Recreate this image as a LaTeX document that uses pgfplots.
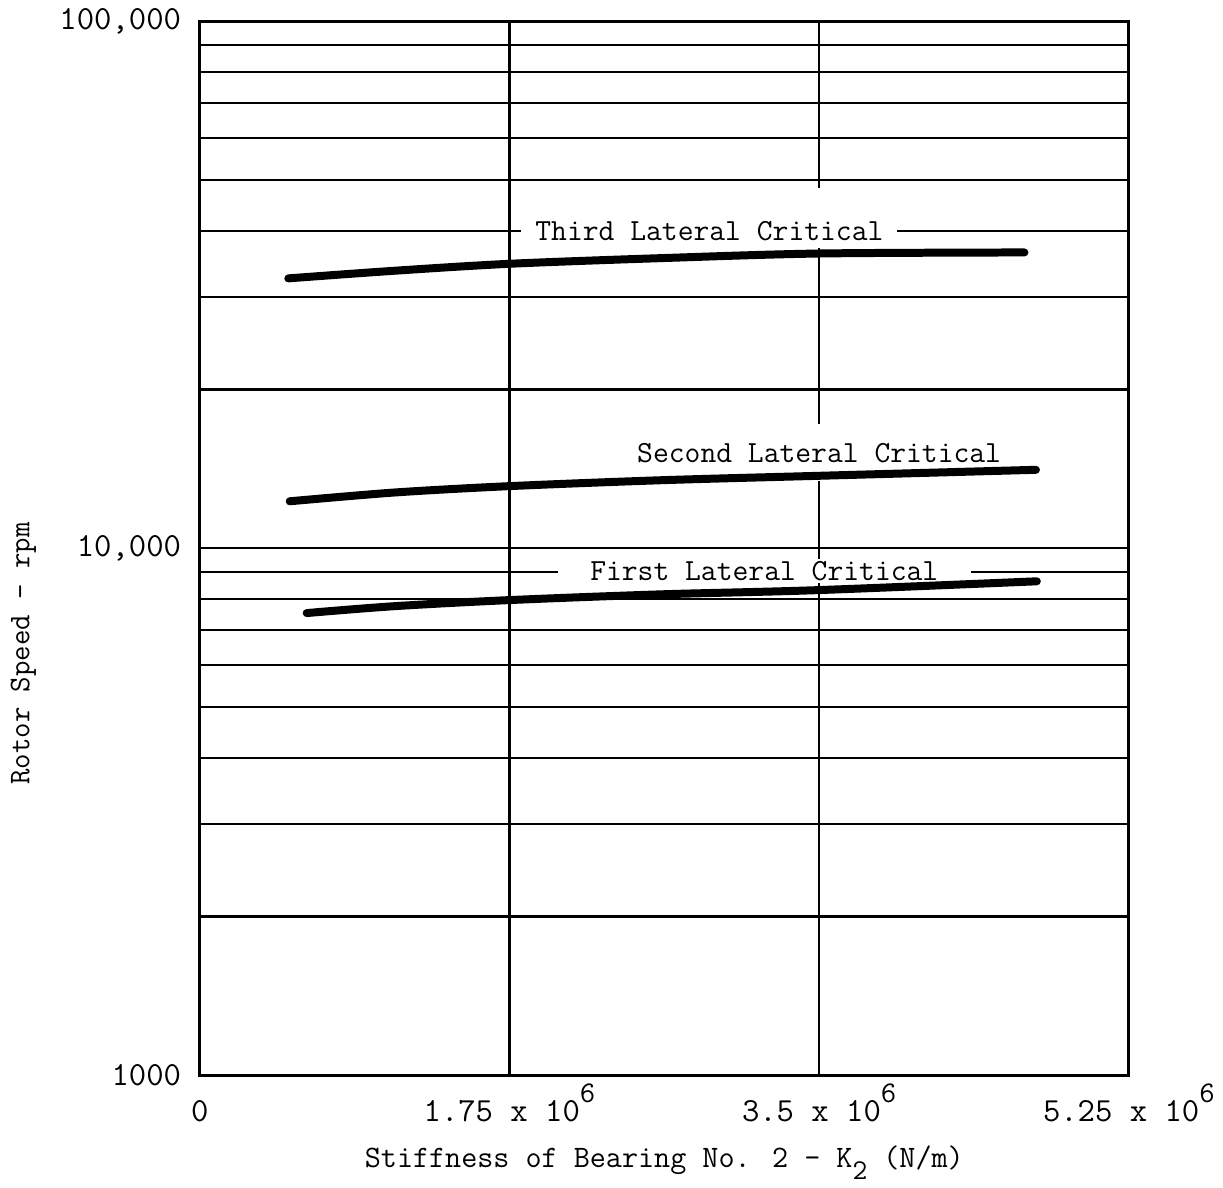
\documentclass[border=0pt]{standalone}
\usepackage{fontspec}
\usepackage{pgfplots}
\pgfplotsset{compat=1.18}
\newcommand\tsup[1]{\raisebox{0.55em}{\fontsize{12}{13}\selectfont #1}}
\newcommand\tsub[1]{\raisebox{-0.4em}{\fontsize{11.5}{12}\selectfont #1}}
\begin{document}
\begin{tikzpicture}
\begin{axis}[
  scale only axis, width=372pt, height=422pt,
  ymode=log, xmin=0, xmax=5250000, ymin=1000, ymax=100000,
  axis line style={line width=1.2pt},
  scaled x ticks=false,
  xtick={0,1750000,3500000,5250000},
  xticklabels={0,{1.75 x 10\tsup{6}},{3.5 x 10\tsup{6}},{5.25 x 10\tsup{6}}},
  ytick={1000,10000,100000},
  yticklabels={1000,{10,000},{100,000}},
  minor ytick={2000,3000,4000,5000,6000,7000,8000,9000,20000,30000,40000,50000,60000,70000,80000,90000},
  ymajorgrids, yminorgrids,
  major grid style={line width=0.85pt, black},
  minor grid style={line width=0.85pt, black},
  major tick length=0pt, minor tick length=0pt,
  tick label style={font=\ttfamily\fontsize{13.5}{15}\selectfont},
  xticklabel style={text height=14pt, yshift=-1pt},
  yticklabel style={xshift=-4pt},
  label style={font=\ttfamily\fontsize{12.5}{14}\selectfont},
  ylabel style={font=\ttfamily\fontsize{12}{14}\selectfont},
  xlabel={Stiffness of Bearing No. 2 - K\tsub{2} (N/m)},
  ylabel={Rotor Speed - rpm},
  xlabel style={at={(axis description cs:0.5,-0.083)},anchor=center},
  ylabel style={at={(axis description cs:-0.19,0.4)},anchor=center},
  clip=false,
]
\coordinate (o) at (rel axis cs:0,0);
% vertical grid lines
\draw[line width=0.85pt] (axis cs:1750000,1000) -- (axis cs:1750000,100000);
\draw[line width=0.85pt] (axis cs:3500000,1000) -- (axis cs:3500000,13430);
\draw[line width=0.85pt] (axis cs:3500000,17220) -- (axis cs:3500000,37150);
\draw[line width=0.85pt] (axis cs:3500000,48200) -- (axis cs:3500000,100000);
% labels
\node[fill=white, inner xsep=5.6pt, inner ysep=1pt, font=\ttfamily\fontsize{12.3}{14}\selectfont] at (axis cs:2880000,40000) {Third Lateral Critical};
\node[inner sep=1pt, font=\ttfamily\fontsize{12.3}{14}\selectfont] at (axis cs:3500000,15150) {Second Lateral Critical};
\node[fill=white, inner xsep=13pt, inner ysep=1pt, font=\ttfamily\fontsize{12.3}{14}\selectfont] at (axis cs:3190000,9050) {First Lateral Critical};
% curves
\addplot[black, line width=3.2pt, line cap=round, smooth] coordinates {
  (500000,32500) (1100000,33600) (1750000,34640) (2600000,35500) (3500000,36230) (4660000,36400)};
\addplot[black, line width=3.2pt, line cap=round, smooth] coordinates {
  (508000,12270) (1100000,12750) (1750000,13110) (2600000,13450) (3480000,13710) (4725000,14080)};
\addplot[black, line width=3.2pt, line cap=round, smooth] coordinates {
  (604000,7530) (1100000,7760) (1750000,7970) (2600000,8170) (3480000,8320) (4730000,8650)};
\end{axis}
\path (o) ++(-80pt,-45.2pt) rectangle ++(489.2pt,475.2pt);
\end{tikzpicture}
\end{document}
